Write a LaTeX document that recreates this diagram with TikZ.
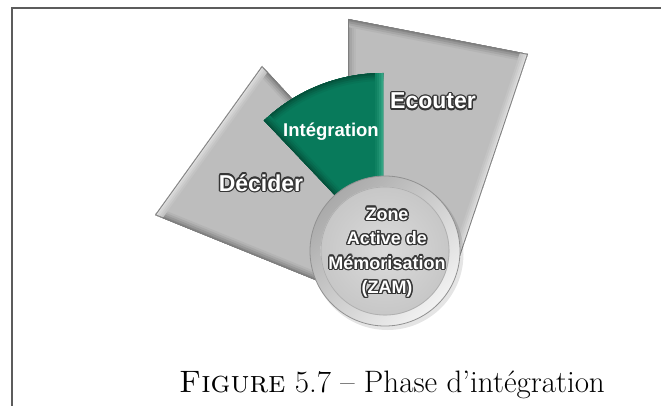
\documentclass[tikz,border=0pt]{standalone}
\usepackage{fontspec}
\newfontfamily\labelfont{Liberation Sans}
\usetikzlibrary{calc}

\definecolor{framegray}{HTML}{5C5C5C}
\definecolor{plate}{HTML}{BDBDBD}
\definecolor{plateDark}{HTML}{7E7E7E}
\definecolor{plateLight}{HTML}{E4E4E4}
\definecolor{sector}{HTML}{087A5B}
\definecolor{sectorDark}{HTML}{04503A}
\definecolor{sectorLight}{HTML}{34A584}
\definecolor{inkgray}{HTML}{353535}

% stepped bevel band along one edge (clipped to the shape by the caller)
\newcommand{\bevel}[4]{%
  \foreach \w/\m in {16/15,12/35,8/60,4/85,1.5/100}{%
    \draw[line width=\w pt, #3!\m!#4] (#1) -- (#2);}}

% white label with a dark halo around the glyphs
\newcommand{\haloed}[4]{%
  \foreach \a in {0,30,...,330}{\node[#3, text=inkgray] at ($(#2)+(\a:1.4pt)$) {#4};}%
  \node[#3, text=white] (#1) at (#2) {#4};}

\tikzset{
  bigword/.style={font=\labelfont\bfseries\fontsize{23}{27}\selectfont, inner sep=0pt, anchor=base},
  zamtext/.style={font=\labelfont\bfseries\fontsize{18}{24.5}\selectfont, align=center, inner sep=0pt},
  sectortext/.style={font=\labelfont\bfseries\fontsize{18.5}{22}\selectfont, text=white, inner sep=0pt, anchor=base},
  captiontext/.style={font=\fontsize{31}{36}\selectfont, inner sep=0pt, anchor=base},
}

\begin{document}
\begin{tikzpicture}[x=1pt,y=1pt]
\useasboundingbox (0,0) rectangle (661,405);

% frame (top and left rules)
\draw[framegray, line width=1.6pt] (12,-5) -- (12,397) -- (670,397);

% "Décider" plate
\coordinate (d1) at (262,339);
\coordinate (d2) at (155,190);
\coordinate (d3) at (345,113);
\coordinate (d4) at (372,220);
\begin{scope}
  \clip (d1) -- (d2) -- (d3) -- (d4) -- cycle;
  \fill[plate] (d1) -- (d2) -- (d3) -- (d4) -- cycle;
  \bevel{d1}{d4}{plateDark}{plate}
  \bevel{d2}{d3}{plateDark}{plate}
  \bevel{d1}{d2}{plateLight}{plate}
  \draw[plateDark, line width=1.6pt] (d4) -- (d1) -- (d2) -- (d3);
\end{scope}

% "Ecouter" plate
\coordinate (e1) at (348,386);
\coordinate (e2) at (528,351);
\coordinate (e3) at (457,140);
\coordinate (e4) at (348,150);
\begin{scope}
  \clip (e1) -- (e2) -- (e3) -- (e4) -- cycle;
  \fill[plate] (e1) -- (e2) -- (e3) -- (e4) -- cycle;
  \bevel{e1}{e4}{plateDark!60!plate}{plate}
  \bevel{e1}{e2}{plateDark}{plate}
  \bevel{e2}{e3}{plateLight}{plate}
  \draw[plateDark, line width=1.6pt] (e4) -- (e1) -- (e2) -- (e3);
\end{scope}

% "Intégration" sector
\coordinate (g) at (383,159);
\path (g) ++(133.5:173pt) coordinate (g1);
\path (g) ++(90:173pt) coordinate (g2);
\begin{scope}
  \clip (g) -- (g1) arc[start angle=133.5, end angle=90, radius=173pt] -- cycle;
  \fill[sector] (g) -- (g1) arc[start angle=133.5, end angle=90, radius=173pt] -- cycle;
  \foreach \w/\m in {16/15,12/35,8/60,4/85,1.5/100}{%
    \draw[line width=\w pt, sectorDark!\m!sector] (g1) arc[start angle=133.5, end angle=90, radius=173pt];}
  \bevel{g}{g1}{sectorDark}{sector}
  \bevel{g}{g2}{sectorLight}{sector}
\end{scope}

% memory zone disc
\coordinate (c) at (385,154);
\fill[black, opacity=0.10] ($(c)+(2.5,-3)$) circle (76pt);
\shade[even odd rule, top color=plate!70!plateDark, bottom color=white!80!plate, shading angle=45]
  (c) circle (75pt) (c) circle (64pt);
\shade[inner color=plate!55!white, outer color=plate!85!white] (c) circle (64.5pt);
\draw[plate!75!plateDark, line width=0.6pt] (c) circle (64pt);
\draw[plateDark!70!plate, line width=0.8pt] (c) circle (75pt);

% labels
\haloed{decider}{261,214}{bigword}{Décider}
\haloed{ecouter}{433,296}{bigword}{Ecouter}
\node[sectortext] (integration) at (331,268) {Intégration};
\haloed{zam}{387,152.5}{zamtext}{Zone\\Active de\\Mémorisation\\(ZAM)}

% caption
\node[captiontext] (caption) at (392,13) {\textsc{Figure} 5.7 – Phase d’intégration};
\end{tikzpicture}
\end{document}
